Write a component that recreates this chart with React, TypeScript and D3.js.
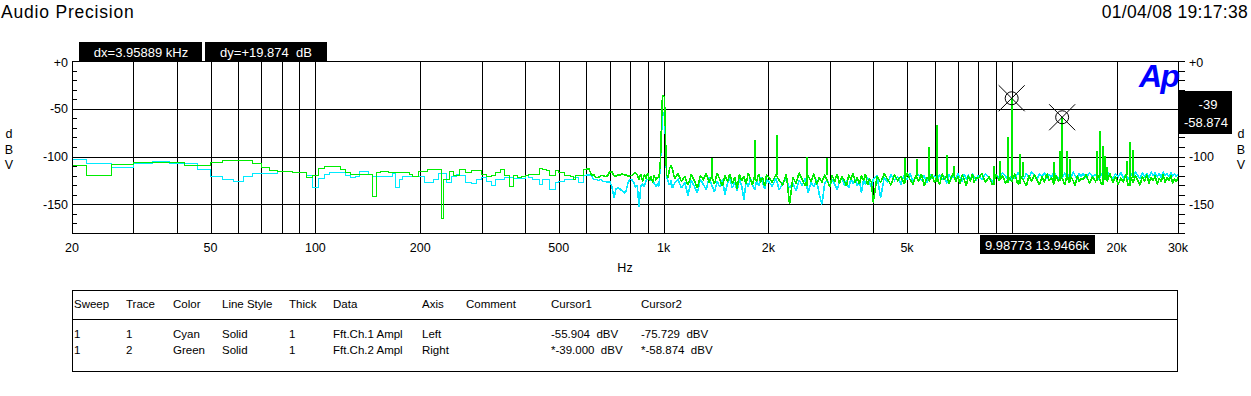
import React from 'react'
import * as d3 from 'd3'

const W = 1251, H = 396
const PL = 72, PR = 1178, PT = 61, PB = 233
const FONT = 'Liberation Sans, Arial, sans-serif'

// ---- data ----

// low band: FFT steps (edge frequency, level) per channel
const ch1LoHz = [20, 22, 26, 30, 34, 38, 46, 50, 54, 58, 62, 66, 78, 86, 94, 98, 102, 106, 110, 122,
  126, 130, 134, 142, 146, 154, 166, 170, 174, 178, 206, 218, 226, 238, 246, 254]
const ch1LoDb = [-103, -107, -111, -107, -105.5, -107.5, -113.5, -121, -124, -126,
  -121, -117.5, -116, -117, -120, -132.5, -123, -119, -117, -120,
  -122, -121, -116, -118.5, -121, -120.5, -118, -132.5, -124, -121,
  -127, -124, -118, -127, -121, -119]

const ch2LoHz = [20, 22, 26, 30, 42, 50, 54, 66, 70, 74, 78, 86, 94, 98, 102, 106, 118, 122, 126, 146,
  150, 154, 162, 174, 186, 190, 198, 210, 230, 234, 242, 250]
const ch2LoDb = [-109.5, -120, -108.5, -106.5, -109.5, -106.5, -104.5, -107.5, -111.5, -114.5,
  -116, -117, -122, -120, -113, -110.5, -113.5, -117, -119, -142,
  -117, -115.5, -117, -116.5, -118.5, -121, -115.5, -113.5, -165, -124,
  -115.5, -120]

// upper band: shared frequency list
const hfHz = [
  260, 270, 280, 290, 300, 310, 320, 330, 340, 350, 360, 370, 380, 390, 400, 410, 420, 430, 440, 450,
  460, 470, 480, 490, 500, 510, 520, 530, 540, 550, 560, 570, 580, 590,
  600, 610, 620, 630, 640, 650, 660, 670, 680, 690, 700, 710, 720, 730, 740, 750, 760, 770, 780, 790,
  800, 810, 820, 830, 840, 850, 860, 870, 880, 890, 900, 910, 920, 930, 940, 950, 960, 970, 980,
  990, 995, 1000, 1005, 1010, 1015, 1020, 1030, 1040, 1050, 1060, 1075,
  1100, 1125, 1150, 1175, 1200, 1225, 1250, 1275, 1300, 1325, 1350, 1375, 1400, 1425, 1450, 1475,
  1500, 1525, 1550, 1575, 1600, 1625, 1650, 1675, 1700, 1725, 1750, 1775, 1800, 1825, 1850, 1875,
  1900, 1925, 1950, 1975,
  2000, 2050, 2100, 2150, 2200, 2250, 2300, 2350, 2400, 2450, 2500, 2550, 2600, 2650, 2700, 2750,
  2800, 2850, 2900, 2950, 3000, 3050, 3100, 3150, 3200, 3250, 3300, 3350, 3400, 3450, 3500, 3550,
  3600, 3650, 3700, 3750, 3800, 3850, 3900, 3950,
  4000, 4100, 4200, 4300, 4400, 4500, 4600, 4700, 4800, 4900, 5000, 5100, 5200, 5300, 5400, 5500,
  5600, 5700, 5800, 5900, 6000, 6100, 6200, 6300, 6400, 6500, 6600, 6700, 6800, 6900, 7000, 7100,
  7200, 7300, 7400, 7500, 7600, 7700, 7800, 7900,
  8000, 8200, 8400, 8600, 8800, 9000, 9200, 9400, 9600, 9800, 10000, 10200, 10400, 10600, 10800,
  11000, 11200, 11400, 11600, 11800, 12000, 12200, 12400, 12600, 12800, 13000, 13200, 13400, 13600,
  13800, 14000, 14200, 14400, 14600, 14800, 15000, 15200, 15400, 15600, 15800,
  16000, 16350, 16700, 17050, 17400, 17750, 18100, 18450, 18800, 19150, 19500, 19850, 20200, 20550,
  20900, 21250, 21600, 21950, 22300, 22650, 23000, 23350, 23700, 24050, 24400, 24750, 25100, 25450,
  25800, 26150, 26500, 26850, 27200, 27550, 27900, 28250, 28600, 28950, 29300, 29650, 30000,
]

// Ch.1 (cyan) levels on hfHz
const ch1HfDb = [
  -120, -127, -128, -124, -122, -126, -130, -124, -124, -122,
  -122, -123, -123, -123, -120, -122, -124, -124, -129, -124,
  -124, -134, -134, -127, -126, -126, -124, -124, -124, -122,
  -122, -127, -127, -120,
  -119, -119, -120, -124, -124, -125, -124, -126, -126, -127,
  -126, -131, -143, -134, -133, -134, -136, -138, -136, -128,
  -124, -124, -127, -132, -130, -153, -131, -129, -131, -125,
  -124, -124, -125, -124, -128, -131, -129, -131, -103,
  -62, -56, -55, -56, -70, -98, -121, -126, -130, -125, -133, -128,
  -124, -133, -127, -141, -125, -131, -138, -124, -129, -135,
  -122, -130, -137, -126, -132, -124, -140, -128, -123, -133,
  -127, -136, -124, -130, -145, -126, -132, -123, -129, -135,
  -125, -131, -122, -128, -134, -124,
  -126, -131, -123, -135, -127, -124, -133, -128, -136, -125,
  -130, -123, -138, -127, -132, -124, -140, -150, -128, -125,
  -131, -124, -129, -135, -126, -122, -130, -125, -133, -123,
  -128, -124, -131, -125, -138, -124, -129, -122, -127, -132,
  -124, -120, -143, -122, -127, -119, -125, -121, -129, -120,
  -124, -118, -126, -121, -119, -125, -120, -127, -118, -123,
  -120, -126, -119, -124, -121, -128, -119, -123, -120, -125,
  -118, -122, -126, -119, -123, -120, -124, -118, -122, -125,
  -120, -124, -118, -122, -126, -119, -123, -117, -121, -125,
  -119, -123, -117, -121, -124, -118, -122, -116, -120, -124,
  -118, -121, -117, -123, -119, -122, -116, -120, -124, -118,
  -121, -117, -123, -119, -122, -116, -120, -124, -118, -121,
  -118, -122, -117, -121, -119, -124, -118, -121, -116, -120,
  -123, -118, -121, -117, -122, -119, -124, -118, -121, -116,
  -120, -123, -117, -121, -118, -122, -116, -120, -117, -121,
  -118, -122, -116, -120, -118, -121, -117, -120, -118, -121,
  -119,
]

// Ch.2 (green) levels on hfHz
const ch2HfDb = [
  -114, -117, -115, -115, -119, -121, -120, -117, -114, -120,
  -131, -120, -122, -121, -120, -119, -119, -119, -113, -114,
  -115, -120, -120, -115, -117, -117, -120, -120, -121, -124,
  -120, -120, -120, -114,
  -113, -113, -119, -119, -122, -122, -120, -120, -121, -120,
  -116, -116, -120, -121, -119, -120, -118, -119, -119, -121,
  -120, -120, -118, -117, -119, -124, -118, -126, -119, -123,
  -117, -125, -121, -127, -120, -124, -122, -122, -102,
  -42, -36.5, -36.5, -38, -60, -96, -119, -122, -112, -110, -113, -123,
  -118, -126, -121, -130, -119, -125, -133, -120, -124, -118,
  -127, -121, -129, -117, -124, -131, -120, -126, -118, -128,
  -122, -134, -119, -125, -121, -129, -117, -124, -130, -120,
  -126, -118, -127, -122, -131, -119,
  -121, -127, -119, -125, -130, -118, -150, -122, -128, -117,
  -124, -131, -120, -126, -118, -129, -122, -127, -119, -125,
  -132, -120, -126, -118, -128, -121, -125, -131, -119, -124,
  -117, -127, -122, -129, -120, -125, -118, -130, -123, -127,
  -148, -121, -127, -118, -124, -130, -119, -125, -121, -128,
  -117, -124, -129, -120, -126, -118, -131, -122, -125, -119,
  -127, -121, -130, -118, -124, -120, -128, -122, -117, -126,
  -121, -129, -119, -124, -131, -120, -126, -118, -127, -122,
  -123, -118, -127, -121, -130, -119, -125, -120, -128, -122,
  -126, -118, -129, -121, -125, -131, -120, -126, -119, -124,
  -130, -121, -127, -118, -125, -122, -129, -120, -126, -121,
  -124, -130, -119, -127, -122, -125, -131, -120, -126, -123,
  -124, -119, -128, -121, -126, -120, -130, -122, -125, -118,
  -127, -121, -129, -123, -126, -119, -131, -122, -127, -120,
  -125, -130, -121, -126, -119, -128, -122, -125, -120, -129,
  -123, -126, -119, -127, -122, -125, -120, -128, -123, -126,
  -122,
]

// harmonic / spur lines
const ch1SpikeHz = [9987.73, 13946.6]
const ch1SpikeDb = [-55.904, -75.729]
const ch2SpikeHz = [1380, 1826, 2122, 2576, 2942, 4936, 5335, 5784, 6086, 6515,
  6823, 8890, 9252, 9736, 9987.73, 10537, 10770, 13220, 13758, 13946.6,
  14408, 14696, 17568, 17920, 18244, 18524, 18770, 21380, 21898, 22290]
const ch2SpikeDb = [-102, -83, -77, -100, -102, -101, -103, -90, -67, -98,
  -110, -110, -105, -80, -39, -97, -106, -106, -94, -58.874,
  -94, -103, -94, -73, -89, -99, -111, -105, -85, -93]

// cursors
const cursorHz = [9987.73, 13946.6]
const cursorDb = [-39, -58.874]

// 10k is hidden behind the cursor readout in the original
const xTickHz = [20, 50, 100, 200, 500, 1000, 2000, 5000, 20000, 30000]
const xTickLabel = ['20', '50', '100', '200', '500', '1k', '2k', '5k', '20k', '30k']
const yTickDb = [0, -50, -100, -150]
const yTickLabel = ['+0', '-50', '-100', '-150']

const tableHead = ['Sweep', 'Trace', 'Color', 'Line Style', 'Thick', 'Data', 'Axis', 'Comment', 'Cursor1', 'Cursor2']
const tableRows = [
  ['1', '1', 'Cyan', 'Solid', '1', 'Fft.Ch.1 Ampl', 'Left', '', '-55.904  dBV', '-75.729  dBV'],
  ['1', '2', 'Green', 'Solid', '1', 'Fft.Ch.2 Ampl', 'Right', '', '*-39.000  dBV', '*-58.874  dBV'],
]
const tableColX = [74, 126, 173, 222, 289, 333, 422, 466, 551, 641]

const CYAN = '#00eaff'
const GREEN = '#00ec00'
const SPLIT_HZ = 600

const x = d3.scaleLog().domain([20, 30000]).range([PL, PR])
const y = d3.scaleLinear().domain([-180, 0]).range([PB, PT])
const px = (v: number) => Math.round(v) + 0.5

type Pt = [number, number]

function buildSeries(loHz: number[], loDb: number[], hfDb: number[]) {
  const pts: Pt[] = []
  loHz.forEach((f, i) => pts.push([f, loDb[i]]))
  const n = Math.min(hfHz.length, hfDb.length)
  for (let i = 0; i < n; i++) pts.push([hfHz[i], hfDb[i]])
  // stepped below SPLIT_HZ (wide FFT bins), dense zigzag above it
  return {
    low: pts.filter(p => p[0] <= SPLIT_HZ),
    high: pts.filter(p => p[0] >= SPLIT_HZ),
  }
}

const bis = d3.bisector((d: number) => d).right
function spikeLines(hfDb: number[], spHz: number[], spDb: number[]) {
  return spHz.map((f, i) => {
    const j = Math.max(0, bis(hfHz, f) - 1)
    return { f, top: spDb[i], base: hfDb[j] }
  })
}

const stepLine = d3.line<Pt>().x(d => x(d[0])).y(d => y(d[1])).curve(d3.curveStepAfter)
const zigLine = d3.line<Pt>().x(d => x(d[0])).y(d => y(d[1]))

function Trace({ s, spikes, color }: { s: { low: Pt[], high: Pt[] }, spikes: { f: number, top: number, base: number }[], color: string }) {
  return (
    <g stroke={color} fill="none" strokeWidth={1} shapeRendering="crispEdges">
      <path d={stepLine(s.low) || ''} />
      <path d={zigLine(s.high) || ''} strokeWidth={1.6} strokeLinejoin="miter" strokeMiterlimit={2} />
      {spikes.map((k, i) => (
        <line key={i} x1={Math.round(x(k.f))} x2={Math.round(x(k.f))} y1={y(k.top)} y2={y(k.base)} strokeWidth={2} />
      ))}
    </g>
  )
}

export default function App() {
  const ch1 = buildSeries(ch1LoHz, ch1LoDb, ch1HfDb)
  const ch2 = buildSeries(ch2LoHz, ch2LoDb, ch2HfDb)
  const sp1 = spikeLines(ch1HfDb, ch1SpikeHz, ch1SpikeDb)
  const sp2 = spikeLines(ch2HfDb, ch2SpikeHz, ch2SpikeDb)

  const vGrid = x.ticks().filter(v => v > 20 && v < 30000)
  const minor = y.ticks(18)

  return (
    <svg width={W} height={H} style={{ position: 'absolute', left: 0, top: 0, background: '#fff' }}
      fontFamily={FONT}>
      <rect width={W} height={H} fill="#fff" />

      {/* header */}
      <text x={1} y={18} fontSize={17.5} letterSpacing={0.8}>Audio Precision</text>
      <text x={1248} y={18} fontSize={17.5} letterSpacing={0.3} textAnchor="end">01/04/08 19:17:38</text>

      {/* grid */}
      <g stroke="#000" strokeWidth={1} shapeRendering="crispEdges">
        {vGrid.map(v => <line key={v} x1={px(x(v))} x2={px(x(v))} y1={PT} y2={PB} />)}
        {[-50, -100, -150].map(v => <line key={v} x1={PL} x2={PR} y1={px(y(v))} y2={px(y(v))} />)}
        {minor.map(v => <line key={'l' + v} x1={PL} x2={PL + 5} y1={px(y(v))} y2={px(y(v))} />)}
        {minor.map(v => <line key={'r' + v} x1={PR} x2={PR + 7} y1={px(y(v))} y2={px(y(v))} />)}
      </g>

      {/* traces */}
      <Trace s={ch1} spikes={sp1} color={CYAN} />
      <Trace s={ch2} spikes={sp2} color={GREEN} />

      <rect x={PL + 0.5} y={PT + 0.5} width={PR - PL} height={PB - PT} fill="none" stroke="#000"
        shapeRendering="crispEdges" />

      {/* axis labels */}
      <g fontSize={12.5}>
        {yTickDb.map((v, i) => (
          <text key={'yl' + v} x={68} y={y(v) + (v === 0 ? 6 : 4.5)} textAnchor="end">{yTickLabel[i]}</text>
        ))}
        {yTickDb.filter(v => v !== -50).map(v => (
          <text key={'yr' + v} x={1189} y={y(v) + (v === 0 ? 6 : 4.5)}>{yTickLabel[yTickDb.indexOf(v)]}</text>
        ))}
        {['d', 'B', 'V'].map((c, i) => (
          <text key={'dl' + c} x={9} y={138 + i * 15.5} textAnchor="middle">{c}</text>
        ))}
        {['d', 'B', 'V'].map((c, i) => (
          <text key={'dr' + c} x={1241} y={138 + i * 15.5} textAnchor="middle">{c}</text>
        ))}
        {xTickHz.map((v, i) => (
          <text key={'x' + v} x={x(v)} y={252} textAnchor="middle">{xTickLabel[i]}</text>
        ))}
        <text x={625} y={272} textAnchor="middle">Hz</text>
      </g>

      {/* Ap logo */}
      <text x={1139} y={87} fontSize={32} fontWeight="bold" fontStyle="italic" fill="#0000ff"
        letterSpacing={-1.5}>Ap</text>

      {/* cursors */}
      <g stroke="#000" fill="none" strokeWidth={1}>
        {cursorHz.map((f, i) => {
          const cx = x(f), cy = y(cursorDb[i])
          return (
            <g key={'c' + i}>
              <circle cx={cx} cy={cy} r={6.5} />
              <line x1={cx - 13} y1={cy - 13} x2={cx + 13} y2={cy + 13} />
              <line x1={cx - 13} y1={cy + 13} x2={cx + 13} y2={cy - 13} />
            </g>
          )
        })}
      </g>

      {/* readout boxes */}
      <g fontSize={13} fill="#fff" style={{ whiteSpace: 'pre' }}>
        <rect x={79} y={42} width={123} height={19} fill="#000" />
        <text x={141} y={56.5} textAnchor="middle">dx=3.95889 kHz</text>
        <rect x={205} y={42} width={122} height={19} fill="#000" />
        <text x={266} y={56.5} textAnchor="middle" xmlSpace="preserve">dy=+19.874  dB</text>
        <rect x={1179} y={91} width={53} height={43} fill="#000" />
        <text x={1208} y={108.5} textAnchor="middle">-39</text>
        <text x={1206} y={126.5} textAnchor="middle">-58.874</text>
        <rect x={980} y={235} width={115} height={19} fill="#000" />
        <text x={1037} y={249.5} textAnchor="middle">9.98773 13.9466k</text>
      </g>

      {/* legend table */}
      <g stroke="#000" shapeRendering="crispEdges">
        <rect x={72.5} y={290.5} width={1105} height={81} fill="none" />
        <line x1={72} x2={1178} y1={319.5} y2={319.5} />
      </g>
      <g fontSize={11.5} style={{ whiteSpace: 'pre' }}>
        {tableHead.map((h, i) => <text key={'h' + i} x={tableColX[i]} y={308}>{h}</text>)}
        {tableRows.map((r, ri) => r.map((c, ci) => (
          <text key={'r' + ri + ci} x={tableColX[ci]} y={337.5 + ri * 16} xmlSpace="preserve">{c}</text>
        )))}
      </g>
    </svg>
  )
}
